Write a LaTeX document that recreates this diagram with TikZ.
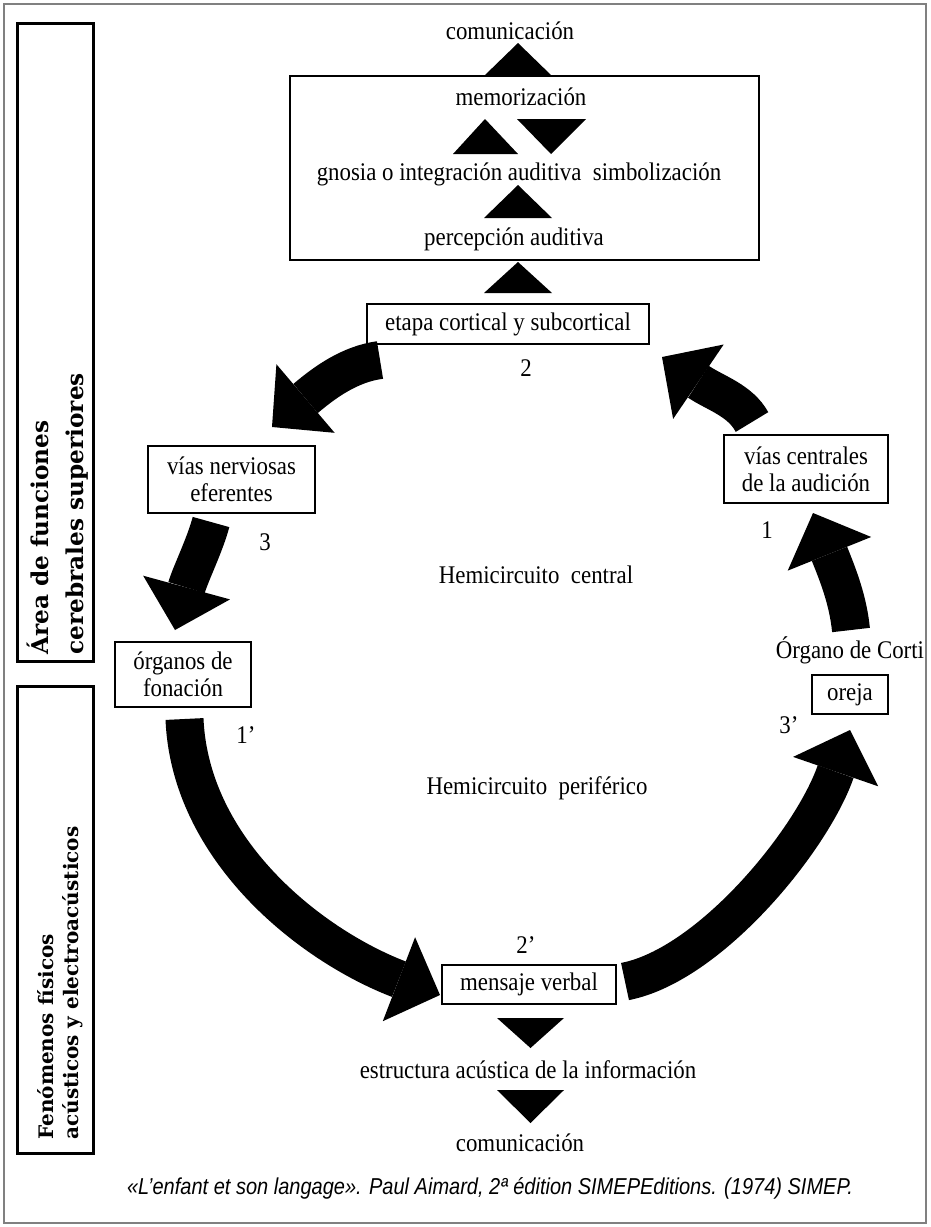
\documentclass[tikz,border=0pt]{standalone}
\usepackage{fontspec}
\setmainfont{Liberation Serif}[FakeStretch=0.9]
\newfontfamily\sidefont{DejaVu Serif}
\newfontfamily\footfont[FakeStretch=0.87]{Liberation Sans}
\usetikzlibrary{arrows.meta}

\tikzset{
  box/.style={draw, line width=1pt, inner sep=0pt, align=center,
    font=\fontsize{12.7}{13.5}\selectfont},
  txt/.style={inner sep=0pt, font=\fontsize{12.7}{13.5}\selectfont},
  bigarrow/.style={line width=19pt,
    -{Triangle[length=22pt,width=45pt,line width=0pt]}},
  sidebox/.style={draw, line width=1.5pt},
  sidetxt/.style={inner sep=0pt, align=left, rotate=90, anchor=north west},
}

\begin{document}
\begin{tikzpicture}[x=0.5pt,y=-0.5pt]

    \useasboundingbox (0,0) rectangle (931,1227);
    \draw[gray, line width=1pt] (4,4) rectangle (926,1223);

    % side labels
    \draw[sidebox] (17,23) rectangle (93,661);
    \draw[sidebox] (17,686) rectangle (93,1153);
    \node[sidetxt, font=\sidefont\bfseries\fontsize{11.6}{17.5}\selectfont]
        (areafun) at (27,655) {Área de funciones\\cerebrales superiores};
    \node[sidetxt, font=\sidefont\bfseries\fontsize{10}{12.5}\selectfont]
        (fenom) at (37,1140) {Fenómenos físicos\\acústicos y electroacústicos};

    % upper part
    \node[txt] (comtop) at (510,31) {comunicación};
    \fill (484,76) -- (518,43) -- (552,76) -- cycle;
    \draw[line width=1pt] (290,76) rectangle (759,260);
    \node[txt] (memo) at (521,97) {memorización};
    \fill (453,154) -- (485,119) -- (518,154) -- cycle;
    \fill (517,119) -- (551,154) -- (586,119) -- cycle;
    \node[txt] (gnosia) at (519,174) {gnosia o integración auditiva\ \ simbolización};
    \fill (484,218) -- (518,185) -- (552,218) -- cycle;
    \node[txt] (percep) at (514,239) {percepción auditiva};
    \fill (484,293) -- (518,262) -- (552,293) -- cycle;

    % circuit
    \node[box, minimum width=141pt, minimum height=20pt] (etapa) at (508,324)
        {etapa cortical y subcortical};
    \node[box, minimum width=83.5pt, minimum height=33.5pt] (vnerv) at (231.5,479.5)
        {vías nerviosas\\eferentes};
    \node[box, minimum width=82pt, minimum height=34pt] (vcent) at (806,469)
        {vías centrales\\de la audición};
    \node[box, minimum width=68pt, minimum height=32.5pt] (organos) at (183,674.5)
        {órganos de\\fonación};
    \node[box, minimum width=38pt, minimum height=19.5pt] (oreja) at (850,694.5)
        {oreja};
    \node[box, minimum width=87pt, minimum height=19.5pt] (mensaje) at (529,984.5)
        {mensaje verbal};

    \node[txt] (num2) at (526,368) {2};
    \node[txt] (num3) at (265,542) {3};
    \node[txt] (num1) at (767,530) {1};
    \node[txt] (numip) at (246,735) {1’};
    \node[txt] (numiiip) at (789,725) {3’};
    \node[txt] (numiip) at (526,945) {2’};
    \node[txt] (hcentral) at (536,575) {Hemicircuito\ \ central};
    \node[txt] (hperif) at (537,788) {Hemicircuito\ \ periférico};
    \node[txt] (corti) at (850,650) {Órgano de Corti};

    \coordinate (a0) at (380,360);  \coordinate (a1) at (272,427);
    \coordinate (b0) at (752,422);  \coordinate (b1) at (662,357);
    \coordinate (c0) at (211,522);  \coordinate (c1) at (175,630);
    \coordinate (d0) at (851,630);  \coordinate (d1) at (813,513);
    \coordinate (e0) at (184.5,719);\coordinate (e1) at (440,995);
    \coordinate (f0) at (625,981.5);\coordinate (f1) at (850,730);

    \draw[bigarrow] (a0) .. controls (350,364) and (325,382) .. (a1);
    \draw[bigarrow] (b0) .. controls (740,400) and (715,393) .. (b1);
    \draw[bigarrow] (c0) .. controls (205,545) and (190,575) .. (c1);
    \draw[bigarrow] (d0) .. controls (848,600) and (838,575) .. (d1);
    \draw[bigarrow] (e0) .. controls (190,850) and (310,945) .. (e1);
    \draw[bigarrow] (f0) .. controls (710,965) and (812,840) .. (f1);

    % lower part
    \fill (497,1018) -- (530.5,1048) -- (564,1018) -- cycle;
    \node[txt] (estruct) at (528,1070) {estructura acústica de la información};
    \fill (497,1090) -- (530.5,1123) -- (564,1090) -- cycle;
    \node[txt] (combot) at (520,1143) {comunicación};

    \node[inner sep=0pt, font=\footfont\itshape\fontsize{11.5}{13}\selectfont] (ref)
        at (490,1188) {«L’enfant et son langage». Paul Aimard, 2ª édition SIMEPEditions. (1974) SIMEP.};

\end{tikzpicture}
\end{document}
